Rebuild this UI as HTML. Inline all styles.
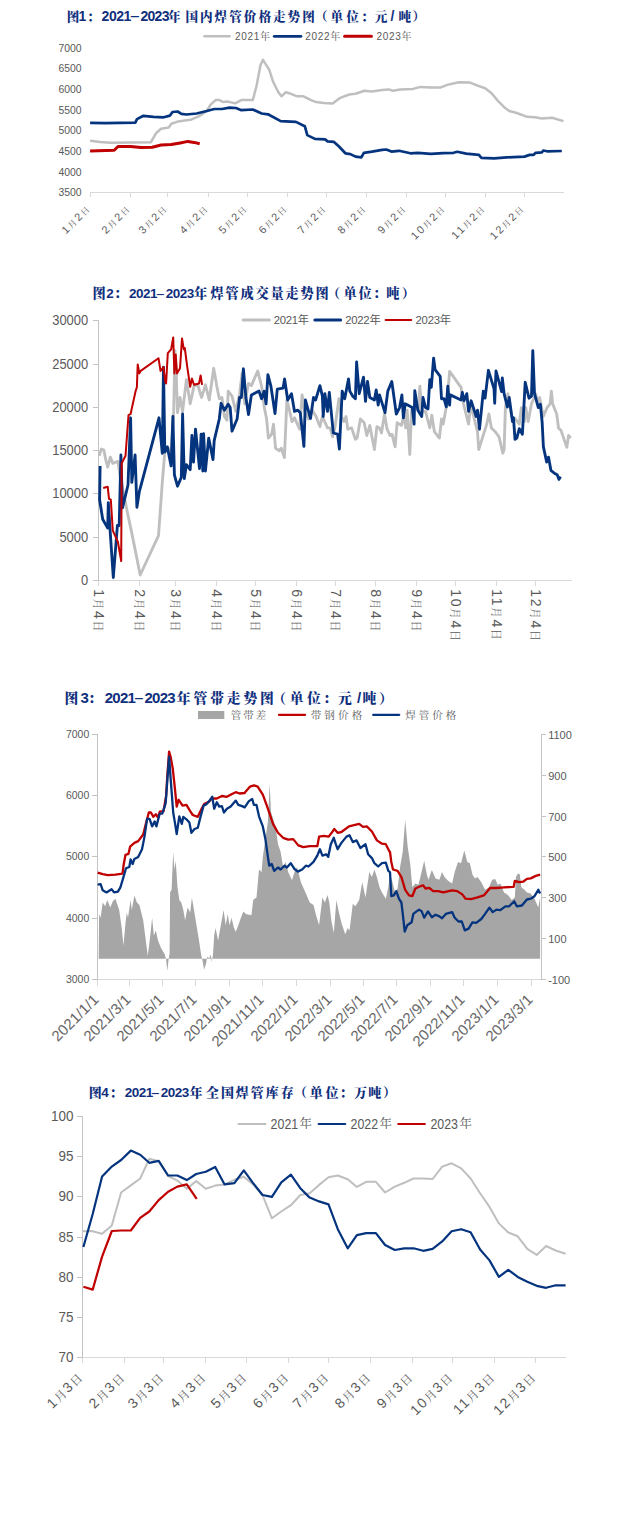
<!DOCTYPE html>
<html lang="zh-CN">
<head>
<meta charset="utf-8">
<title>焊管图表</title>
<style>
html,body{margin:0;padding:0;background:#fff;}
body{width:631px;height:1515px;overflow:hidden;}
svg{display:block;}
.title{font-family:"Liberation Sans","Noto Serif CJK SC",serif;font-weight:bold;fill:#102f7d;}
.lab{font-family:"Liberation Sans","Noto Sans CJK SC",sans-serif;fill:#595959;}
.k{font-family:"Liberation Sans","Noto Serif CJK SC",serif;}
.s{font-family:"Liberation Sans","Noto Sans CJK SC",sans-serif;}
</style>
</head>
<body>
<svg width="631" height="1515" viewBox="0 0 631 1515">
<rect x="0" y="0" width="631" height="1515" fill="#ffffff"/>
<g id="chart1">
<text y="21.3" class="title" style="font-size:12.6px;font-weight:900" x="66.8">图</text><text y="21.3" class="title" style="font-size:14.0px" x="78.6">1</text><text y="21.3" class="title" style="font-size:12.6px;font-weight:900" x="87.1">：</text><text y="21.3" class="title" style="font-size:14.0px" x="101.6 108.9 116.3 123.6">2021</text><text y="21.3" class="title" style="font-size:14.0px" x="140.4 147.5 154.6 161.7">2023</text><text y="21.3" class="title" style="font-size:12.6px;font-weight:900" x="168.1">年</text><text y="21.3" class="title" style="font-size:12.6px;font-weight:900" x="185.4 200.0 214.6 229.2 243.8 258.4 273.0 287.6 302.2">国内焊管价格走势图</text><text y="21.3" class="title" style="font-size:12.6px;font-weight:900" x="315.1">（</text><text y="21.3" class="title" style="font-size:12.6px;font-weight:900" x="330.4 346.2">单位</text><text y="21.3" class="title" style="font-size:12.6px;font-weight:900" x="361.1">：</text><text y="21.3" class="title" style="font-size:12.6px;font-weight:900" x="374.8">元</text><text y="21.3" class="title" style="font-size:14.0px" x="390.5">/</text><text y="21.3" class="title" style="font-size:12.6px;font-weight:900" x="398.6">吨</text><text y="21.3" class="title" style="font-size:12.6px;font-weight:900" x="412.6">）</text><text class="title" style="font-size:14px;font-weight:normal" transform="translate(130.5,21.3) scale(2.39,1)" x="-0.51">-</text>
<line x1="204.4" y1="36.3" x2="229.6" y2="36.3" stroke="#bfbfbf" stroke-width="2.4" stroke-linecap="round"/>
<text x="235" y="39.9" class="lab k" style="font-size:10px" textLength="35" lengthAdjust="spacing">2021年</text>
<line x1="274.2" y1="36.3" x2="301" y2="36.3" stroke="#05347f" stroke-width="2.7" stroke-linecap="round"/>
<text x="305.3" y="39.9" class="lab k" style="font-size:10px" textLength="35" lengthAdjust="spacing">2022年</text>
<line x1="344.6" y1="36.3" x2="371.4" y2="36.3" stroke="#c00000" stroke-width="3.0" stroke-linecap="round"/>
<text x="376.4" y="39.9" class="lab k" style="font-size:10px" textLength="35" lengthAdjust="spacing">2023年</text>
<text x="81.5" y="51.7" class="lab" text-anchor="end" style="font-size:10.4px">7000</text>
<text x="81.5" y="72.3" class="lab" text-anchor="end" style="font-size:10.4px">6500</text>
<text x="81.5" y="93.0" class="lab" text-anchor="end" style="font-size:10.4px">6000</text>
<text x="81.5" y="113.6" class="lab" text-anchor="end" style="font-size:10.4px">5500</text>
<text x="81.5" y="134.3" class="lab" text-anchor="end" style="font-size:10.4px">5000</text>
<text x="81.5" y="154.9" class="lab" text-anchor="end" style="font-size:10.4px">4500</text>
<text x="81.5" y="175.5" class="lab" text-anchor="end" style="font-size:10.4px">4000</text>
<text x="81.5" y="196.2" class="lab" text-anchor="end" style="font-size:10.4px">3500</text>
<line x1="90" y1="192.5" x2="564" y2="192.5" stroke="#d9d9d9" stroke-width="1"/>
<line x1="90.5" y1="192.0" x2="90.5" y2="197.0" stroke="#d9d9d9" stroke-width="1"/>
<text transform="translate(91.5,209.0) rotate(-45)" class="lab k" text-anchor="end" style="letter-spacing:1.9px"><tspan style="font-size:10.8px">1</tspan><tspan style="font-size:8.3px">月</tspan><tspan style="font-size:10.8px">2</tspan><tspan style="font-size:8.3px">日</tspan></text>
<line x1="130.5" y1="192.0" x2="130.5" y2="197.0" stroke="#d9d9d9" stroke-width="1"/>
<text transform="translate(131.5,209.0) rotate(-45)" class="lab k" text-anchor="end" style="letter-spacing:1.9px"><tspan style="font-size:10.8px">2</tspan><tspan style="font-size:8.3px">月</tspan><tspan style="font-size:10.8px">2</tspan><tspan style="font-size:8.3px">日</tspan></text>
<line x1="167.5" y1="192.0" x2="167.5" y2="197.0" stroke="#d9d9d9" stroke-width="1"/>
<text transform="translate(168.5,209.0) rotate(-45)" class="lab k" text-anchor="end" style="letter-spacing:1.9px"><tspan style="font-size:10.8px">3</tspan><tspan style="font-size:8.3px">月</tspan><tspan style="font-size:10.8px">2</tspan><tspan style="font-size:8.3px">日</tspan></text>
<line x1="208.5" y1="192.0" x2="208.5" y2="197.0" stroke="#d9d9d9" stroke-width="1"/>
<text transform="translate(209.5,209.0) rotate(-45)" class="lab k" text-anchor="end" style="letter-spacing:1.9px"><tspan style="font-size:10.8px">4</tspan><tspan style="font-size:8.3px">月</tspan><tspan style="font-size:10.8px">2</tspan><tspan style="font-size:8.3px">日</tspan></text>
<line x1="247.5" y1="192.0" x2="247.5" y2="197.0" stroke="#d9d9d9" stroke-width="1"/>
<text transform="translate(248.5,209.0) rotate(-45)" class="lab k" text-anchor="end" style="letter-spacing:1.9px"><tspan style="font-size:10.8px">5</tspan><tspan style="font-size:8.3px">月</tspan><tspan style="font-size:10.8px">2</tspan><tspan style="font-size:8.3px">日</tspan></text>
<line x1="287.5" y1="192.0" x2="287.5" y2="197.0" stroke="#d9d9d9" stroke-width="1"/>
<text transform="translate(288.5,209.0) rotate(-45)" class="lab k" text-anchor="end" style="letter-spacing:1.9px"><tspan style="font-size:10.8px">6</tspan><tspan style="font-size:8.3px">月</tspan><tspan style="font-size:10.8px">2</tspan><tspan style="font-size:8.3px">日</tspan></text>
<line x1="326.5" y1="192.0" x2="326.5" y2="197.0" stroke="#d9d9d9" stroke-width="1"/>
<text transform="translate(327.5,209.0) rotate(-45)" class="lab k" text-anchor="end" style="letter-spacing:1.9px"><tspan style="font-size:10.8px">7</tspan><tspan style="font-size:8.3px">月</tspan><tspan style="font-size:10.8px">2</tspan><tspan style="font-size:8.3px">日</tspan></text>
<line x1="366.5" y1="192.0" x2="366.5" y2="197.0" stroke="#d9d9d9" stroke-width="1"/>
<text transform="translate(367.5,209.0) rotate(-45)" class="lab k" text-anchor="end" style="letter-spacing:1.9px"><tspan style="font-size:10.8px">8</tspan><tspan style="font-size:8.3px">月</tspan><tspan style="font-size:10.8px">2</tspan><tspan style="font-size:8.3px">日</tspan></text>
<line x1="406.5" y1="192.0" x2="406.5" y2="197.0" stroke="#d9d9d9" stroke-width="1"/>
<text transform="translate(407.5,209.0) rotate(-45)" class="lab k" text-anchor="end" style="letter-spacing:1.9px"><tspan style="font-size:10.8px">9</tspan><tspan style="font-size:8.3px">月</tspan><tspan style="font-size:10.8px">2</tspan><tspan style="font-size:8.3px">日</tspan></text>
<line x1="445.5" y1="192.0" x2="445.5" y2="197.0" stroke="#d9d9d9" stroke-width="1"/>
<text transform="translate(446.5,209.0) rotate(-45)" class="lab k" text-anchor="end" style="letter-spacing:1.9px"><tspan style="font-size:10.8px">10</tspan><tspan style="font-size:8.3px">月</tspan><tspan style="font-size:10.8px">2</tspan><tspan style="font-size:8.3px">日</tspan></text>
<line x1="485.5" y1="192.0" x2="485.5" y2="197.0" stroke="#d9d9d9" stroke-width="1"/>
<text transform="translate(486.5,209.0) rotate(-45)" class="lab k" text-anchor="end" style="letter-spacing:1.9px"><tspan style="font-size:10.8px">11</tspan><tspan style="font-size:8.3px">月</tspan><tspan style="font-size:10.8px">2</tspan><tspan style="font-size:8.3px">日</tspan></text>
<line x1="524.5" y1="192.0" x2="524.5" y2="197.0" stroke="#d9d9d9" stroke-width="1"/>
<text transform="translate(525.5,209.0) rotate(-45)" class="lab k" text-anchor="end" style="letter-spacing:1.9px"><tspan style="font-size:10.8px">12</tspan><tspan style="font-size:8.3px">月</tspan><tspan style="font-size:10.8px">2</tspan><tspan style="font-size:8.3px">日</tspan></text>
<polyline points="90.1,140.7 100.3,141.9 110.4,142.7 151.0,142.2 153.5,137.6 156.0,133.3 161.1,128.7 168.7,127.5 171.3,123.7 177.6,121.6 181.4,121.1 191.6,119.4 199.2,116.1 206.8,111.0 210.6,104.7 215.6,100.1 219.5,100.1 223.3,102.1 227.1,101.6 230.0,102.1 235.0,103.4 241.4,100.1 252.8,100.1 256.6,85.6 260.4,65.4 263.0,59.8 269.3,69.9 273.1,81.8 278.2,92.0 281.5,96.3 285.8,92.2 290.9,93.8 297.2,96.3 303.5,96.3 311.1,100.1 316.2,102.1 323.8,102.9 332.7,103.4 340.3,97.8 349.2,94.5 355.5,93.8 364.4,90.7 372.0,91.5 382.1,90.0 388.9,89.4 392.7,90.7 400.3,89.4 413.0,88.9 420.6,86.9 430.7,87.4 440.9,87.4 447.2,84.9 458.6,82.3 470.0,82.6 477.6,85.6 485.2,88.2 491.6,93.2 497.9,100.9 504.2,107.2 509.3,111.0 516.9,113.0 527.1,116.8 534.7,117.3 542.0,118.6 552.1,117.8 563.5,121.1" fill="none" stroke="#bfbfbf" stroke-width="2.5" stroke-linejoin="round" stroke-linecap="butt" />
<polyline points="90.1,122.9 105.4,123.2 135.3,122.7 137.0,119.1 143.4,115.8 153.5,116.8 163.7,117.3 170.0,115.6 172.5,112.0 177.6,111.5 181.4,113.8 186.5,114.5 196.6,113.5 206.8,111.0 214.4,109.0 222.0,109.0 229.6,107.7 236.0,108.0 241.4,110.2 252.8,109.5 261.7,113.5 268.0,114.3 280.7,121.1 295.9,121.9 304.8,126.2 307.3,135.1 314.9,138.9 325.1,139.4 327.6,141.4 334.0,141.9 339.0,146.5 345.4,153.3 350.4,154.1 355.5,156.6 361.3,157.4 363.9,152.8 372.0,151.6 382.1,149.8 386.3,149.5 391.4,151.6 399.0,150.8 410.4,153.3 418.0,152.8 430.7,153.8 443.4,153.1 453.5,152.8 457.3,151.8 466.2,153.6 478.9,154.9 481.4,157.9 494.1,158.4 506.8,157.4 524.5,156.6 529.6,154.9 533.4,154.9 535.7,152.8 542.0,152.3 543.3,150.5 547.0,151.3 561.8,151.0" fill="none" stroke="#05347f" stroke-width="2.7" stroke-linejoin="round" stroke-linecap="butt" />
<polyline points="90.1,151.1 114.2,150.3 118.0,146.5 130.7,146.5 140.9,147.5 152.3,147.3 161.1,145.0 171.3,144.5 180.2,142.9 187.8,141.4 194.1,142.4 199.7,143.7" fill="none" stroke="#c00000" stroke-width="3.0" stroke-linejoin="round" stroke-linecap="butt" />
</g>
<g id="chart2">
<text y="298.3" class="title" style="font-size:13.2px;font-weight:900" x="92.5">图</text><text y="298.3" class="title" style="font-size:13.5px" x="106.2">2</text><text y="298.3" class="title" style="font-size:13.2px;font-weight:900" x="114.1">：</text><text y="298.3" class="title" style="font-size:13.5px" x="129.0 136.0 143.0 150.0">2021</text><text y="298.3" class="title" style="font-size:13.5px" x="165.7 172.7 179.7 186.7">2023</text><text y="298.3" class="title" style="font-size:13.2px;font-weight:900" x="193.9">年</text><text y="298.3" class="title" style="font-size:13.2px;font-weight:900" x="210.4 225.4 240.4 255.4 270.4 285.4 300.4 315.4">焊管成交量走势图</text><text y="298.3" class="title" style="font-size:13.2px;font-weight:900" x="327.1">（</text><text y="298.3" class="title" style="font-size:13.2px;font-weight:900" x="343.4 358.5">单位</text><text y="298.3" class="title" style="font-size:13.2px;font-weight:900" x="372.9">：</text><text y="298.3" class="title" style="font-size:13.2px;font-weight:900" x="386.2">吨</text><text y="298.3" class="title" style="font-size:13.2px;font-weight:900" x="401.7">）</text><text class="title" style="font-size:13.5px;font-weight:normal" transform="translate(156.5,298.3) scale(2.17,1)" x="-0.49">-</text>
<line x1="243.2" y1="320" x2="269.4" y2="320" stroke="#bfbfbf" stroke-width="3" stroke-linecap="round"/>
<text x="273.7" y="324" class="lab s" style="font-size:11.3px" textLength="35.4" lengthAdjust="spacing">2021年</text>
<line x1="314.9" y1="320" x2="340.6" y2="320" stroke="#05347f" stroke-width="3" stroke-linecap="round"/>
<text x="345.3" y="324" class="lab s" style="font-size:11.3px" textLength="35.4" lengthAdjust="spacing">2022年</text>
<line x1="385.6" y1="320" x2="411.2" y2="320" stroke="#c00000" stroke-width="2.0" stroke-linecap="round"/>
<text x="415.6" y="324" class="lab s" style="font-size:11.3px" textLength="35.4" lengthAdjust="spacing">2023年</text>
<line x1="99" y1="580.5" x2="572" y2="580.5" stroke="#d9d9d9" stroke-width="1"/>
<line x1="98.5" y1="320" x2="98.5" y2="581" stroke="#c3c3c3" stroke-width="1"/>
<line x1="93" y1="320.5" x2="98" y2="320.5" stroke="#c3c3c3" stroke-width="1"/>
<text x="52.2" y="324.8" class="lab" style="font-size:14.6px" textLength="36.0" lengthAdjust="spacingAndGlyphs">30000</text>
<line x1="93" y1="364.5" x2="98" y2="364.5" stroke="#c3c3c3" stroke-width="1"/>
<text x="52.2" y="368.8" class="lab" style="font-size:14.6px" textLength="36.0" lengthAdjust="spacingAndGlyphs">25000</text>
<line x1="93" y1="407.5" x2="98" y2="407.5" stroke="#c3c3c3" stroke-width="1"/>
<text x="52.2" y="411.8" class="lab" style="font-size:14.6px" textLength="36.0" lengthAdjust="spacingAndGlyphs">20000</text>
<line x1="93" y1="450.5" x2="98" y2="450.5" stroke="#c3c3c3" stroke-width="1"/>
<text x="52.2" y="454.8" class="lab" style="font-size:14.6px" textLength="36.0" lengthAdjust="spacingAndGlyphs">15000</text>
<line x1="93" y1="493.5" x2="98" y2="493.5" stroke="#c3c3c3" stroke-width="1"/>
<text x="52.2" y="497.8" class="lab" style="font-size:14.6px" textLength="36.0" lengthAdjust="spacingAndGlyphs">10000</text>
<line x1="93" y1="537.5" x2="98" y2="537.5" stroke="#c3c3c3" stroke-width="1"/>
<text x="59.4" y="541.8" class="lab" style="font-size:14.6px" textLength="28.8" lengthAdjust="spacingAndGlyphs">5000</text>
<line x1="93" y1="580.5" x2="98" y2="580.5" stroke="#c3c3c3" stroke-width="1"/>
<text x="81.0" y="584.8" class="lab" style="font-size:14.6px" textLength="7.2" lengthAdjust="spacingAndGlyphs">0</text>
<line x1="98.5" y1="581" x2="98.5" y2="586" stroke="#d9d9d9" stroke-width="1"/>
<text transform="translate(94.3,589.3) rotate(90)" class="lab k" style="letter-spacing:1.6px"><tspan style="font-size:14px">1</tspan><tspan style="font-size:10.8px">月</tspan><tspan style="font-size:14px">4</tspan><tspan style="font-size:10.8px">日</tspan></text>
<line x1="139.5" y1="581" x2="139.5" y2="586" stroke="#d9d9d9" stroke-width="1"/>
<text transform="translate(135.3,589.3) rotate(90)" class="lab k" style="letter-spacing:1.6px"><tspan style="font-size:14px">2</tspan><tspan style="font-size:10.8px">月</tspan><tspan style="font-size:14px">4</tspan><tspan style="font-size:10.8px">日</tspan></text>
<line x1="175.5" y1="581" x2="175.5" y2="586" stroke="#d9d9d9" stroke-width="1"/>
<text transform="translate(171.3,589.3) rotate(90)" class="lab k" style="letter-spacing:1.6px"><tspan style="font-size:14px">3</tspan><tspan style="font-size:10.8px">月</tspan><tspan style="font-size:14px">4</tspan><tspan style="font-size:10.8px">日</tspan></text>
<line x1="216.5" y1="581" x2="216.5" y2="586" stroke="#d9d9d9" stroke-width="1"/>
<text transform="translate(212.3,589.3) rotate(90)" class="lab k" style="letter-spacing:1.6px"><tspan style="font-size:14px">4</tspan><tspan style="font-size:10.8px">月</tspan><tspan style="font-size:14px">4</tspan><tspan style="font-size:10.8px">日</tspan></text>
<line x1="255.5" y1="581" x2="255.5" y2="586" stroke="#d9d9d9" stroke-width="1"/>
<text transform="translate(251.3,589.3) rotate(90)" class="lab k" style="letter-spacing:1.6px"><tspan style="font-size:14px">5</tspan><tspan style="font-size:10.8px">月</tspan><tspan style="font-size:14px">4</tspan><tspan style="font-size:10.8px">日</tspan></text>
<line x1="296.5" y1="581" x2="296.5" y2="586" stroke="#d9d9d9" stroke-width="1"/>
<text transform="translate(292.3,589.3) rotate(90)" class="lab k" style="letter-spacing:1.6px"><tspan style="font-size:14px">6</tspan><tspan style="font-size:10.8px">月</tspan><tspan style="font-size:14px">4</tspan><tspan style="font-size:10.8px">日</tspan></text>
<line x1="335.5" y1="581" x2="335.5" y2="586" stroke="#d9d9d9" stroke-width="1"/>
<text transform="translate(331.3,589.3) rotate(90)" class="lab k" style="letter-spacing:1.6px"><tspan style="font-size:14px">7</tspan><tspan style="font-size:10.8px">月</tspan><tspan style="font-size:14px">4</tspan><tspan style="font-size:10.8px">日</tspan></text>
<line x1="375.5" y1="581" x2="375.5" y2="586" stroke="#d9d9d9" stroke-width="1"/>
<text transform="translate(371.3,589.3) rotate(90)" class="lab k" style="letter-spacing:1.6px"><tspan style="font-size:14px">8</tspan><tspan style="font-size:10.8px">月</tspan><tspan style="font-size:14px">4</tspan><tspan style="font-size:10.8px">日</tspan></text>
<line x1="416.5" y1="581" x2="416.5" y2="586" stroke="#d9d9d9" stroke-width="1"/>
<text transform="translate(412.3,589.3) rotate(90)" class="lab k" style="letter-spacing:1.6px"><tspan style="font-size:14px">9</tspan><tspan style="font-size:10.8px">月</tspan><tspan style="font-size:14px">4</tspan><tspan style="font-size:10.8px">日</tspan></text>
<line x1="455.5" y1="581" x2="455.5" y2="586" stroke="#d9d9d9" stroke-width="1"/>
<text transform="translate(451.3,589.3) rotate(90)" class="lab k" style="letter-spacing:1.6px"><tspan style="font-size:14px">10</tspan><tspan style="font-size:10.8px">月</tspan><tspan style="font-size:14px">4</tspan><tspan style="font-size:10.8px">日</tspan></text>
<line x1="496.5" y1="581" x2="496.5" y2="586" stroke="#d9d9d9" stroke-width="1"/>
<text transform="translate(492.3,589.3) rotate(90)" class="lab k" style="letter-spacing:1.6px"><tspan style="font-size:14px">11</tspan><tspan style="font-size:10.8px">月</tspan><tspan style="font-size:14px">4</tspan><tspan style="font-size:10.8px">日</tspan></text>
<line x1="535.5" y1="581" x2="535.5" y2="586" stroke="#d9d9d9" stroke-width="1"/>
<text transform="translate(531.3,589.3) rotate(90)" class="lab k" style="letter-spacing:1.6px"><tspan style="font-size:14px">12</tspan><tspan style="font-size:10.8px">月</tspan><tspan style="font-size:14px">4</tspan><tspan style="font-size:10.8px">日</tspan></text>
<polyline points="99.1,455.8 101.4,449.0 103.9,450.0 105.7,459.6 107.7,467.2 110.3,457.1 112.8,463.4 117.9,461.4 119.9,474.8 125.5,502.7 128.0,515.4 131.8,533.1 140.2,575.0 158.5,535.7 162.3,482.4 164.8,452.0 167.3,446.9 171.1,452.0 173.7,411.4 174.9,350.6 176.2,373.4 177.5,412.7 180.0,397.5 182.6,411.4 186.4,379.7 190.2,403.8 194.0,386.1 197.8,384.8 201.6,397.5 205.4,384.8 209.2,400.0 213.7,368.3 216.8,386.1 219.3,398.7 221.9,397.5 224.4,416.5 226.9,420.3 228.2,391.1 232.0,396.2 235.8,411.4 239.6,393.7 242.1,373.4 244.7,403.8 248.5,383.5 251.4,385.6 257.7,370.9 261.6,386.1 264.1,406.4 266.6,419.0 268.4,438.1 271.7,434.2 273.5,424.1 275.5,448.2 279.3,450.7 281.3,448.2 284.4,457.6 286.9,400.0 289.4,410.2 292.0,421.6 294.5,417.8 299.6,429.2 302.1,394.9 304.7,411.4 308.5,419.0 312.3,410.2 316.1,416.5 319.9,426.6 322.4,416.5 327.5,427.9 330.0,427.9 332.6,436.8 335.1,426.6 338.9,398.7 341.4,416.5 344.0,421.6 346.0,416.5 347.8,429.2 351.6,427.9 355.4,439.3 357.1,438.1 360.4,419.0 364.2,422.8 366.8,435.5 369.8,425.4 374.4,449.5 376.9,426.6 379.5,427.9 381.5,433.0 384.5,414.0 387.1,429.2 390.0,435.5 392.0,434.2 395.1,446.9 397.1,422.8 401.4,425.4 403.9,415.2 405.7,427.9 407.2,410.2 409.8,454.5 411.6,410.2 415.4,407.6 418.4,410.2 419.9,386.1 421.7,411.4 425.5,411.4 429.8,427.9 431.8,415.2 434.4,431.7 439.4,438.1 441.5,419.0 443.2,424.1 447.1,402.6 449.6,371.4 461.0,387.3 463.5,403.8 468.6,424.1 470.6,405.1 473.7,416.5 477.5,431.7 478.7,449.5 486.4,425.4 488.9,414.0 491.4,427.9 495.2,431.7 499.0,436.8 502.8,453.3 504.1,449.5 505.4,407.6 507.9,393.7 511.7,416.5 515.5,419.0 519.3,424.1 521.3,407.6 524.4,421.6 525.7,407.6 528.2,421.6 531.5,403.8 535.8,393.7 537.8,403.8 539.6,397.5 543.3,416.5 547.1,407.6 550.1,403.8 551.4,391.1 552.6,403.8 556.7,414.0 558.5,427.9 561.0,430.4 566.8,447.4 568.6,435.5 570.7,438.1" fill="none" stroke="#bfbfbf" stroke-width="2.85" stroke-linejoin="round" stroke-linecap="butt" />
<polyline points="100.1,465.9 99.6,499.7 102.7,519.2 107.7,528.1 108.3,502.7 110.3,533.1 113.3,577.5 117.4,525.5 119.2,525.5 120.9,455.0 122.5,507.8 128.0,485.0 130.6,417.8 131.8,482.4 135.1,455.0 136.9,507.3 139.4,491.3 159.0,417.8 162.3,453.3 163.5,367.1 164.8,452.0 167.3,446.9 171.1,465.9 172.9,416.5 174.4,474.8 177.5,486.2 181.3,477.4 182.6,414.0 184.3,478.6 186.4,464.7 190.2,469.7 191.9,435.5 193.5,462.1 195.5,429.2 199.5,468.5 201.1,434.2 202.8,471.0 203.6,433.7 205.4,471.0 208.7,438.1 213.0,459.6 214.2,440.6 219.3,419.0 221.1,403.3 224.4,410.2 228.2,404.3 230.2,407.6 232.0,431.2 237.1,419.0 239.6,397.5 241.4,397.5 243.4,368.8 245.9,397.5 248.5,414.5 251.4,394.9 259.0,391.1 261.6,398.7 264.1,391.1 266.1,403.8 267.9,374.7 270.9,386.1 275.0,413.5 277.3,389.1 283.1,388.1 284.6,379.0 287.7,400.0 291.5,393.7 294.5,411.4 297.8,410.2 300.3,412.7 303.9,446.4 305.4,400.0 310.5,418.5 313.5,397.5 315.6,400.0 319.9,385.6 322.4,396.2 323.2,416.5 324.9,393.7 327.5,411.4 329.3,392.4 333.3,433.0 337.6,434.2 339.4,449.0 342.2,391.1 344.7,398.7 348.5,379.0 349.8,391.1 352.8,396.2 355.4,398.7 356.6,362.0 359.2,393.7 363.5,377.2 365.5,401.3 367.5,381.5 369.8,397.5 374.4,400.0 376.2,389.9 378.2,405.1 379.5,394.9 385.0,412.7 387.8,391.1 391.8,381.5 396.3,414.0 399.6,407.6 401.9,394.9 403.4,417.8 405.2,403.8 409.0,405.8 412.3,407.6 414.1,424.1 414.8,390.6 417.9,410.2 421.7,416.5 423.0,397.5 425.5,407.6 428.0,408.9 429.8,379.7 431.3,387.3 433.6,358.2 435.1,369.6 440.2,376.4 441.5,398.7 444.0,398.7 446.3,406.9 447.8,386.1 449.6,405.1 450.3,394.9 461.0,400.0 462.3,392.4 464.0,400.8 466.8,393.7 468.6,411.4 471.1,400.8 476.2,416.5 477.5,410.2 479.5,429.2 483.3,391.1 485.1,398.2 488.4,370.3 494.0,388.6 494.7,403.3 496.0,370.9 501.6,391.6 502.3,378.0 504.1,393.7 507.4,407.1 509.2,397.5 512.5,421.6 513.5,417.8 515.0,439.3 516.8,438.1 519.3,428.7 522.4,434.2 525.2,382.3 529.0,398.2 531.5,396.2 532.8,350.6 534.5,393.7 538.3,407.6 540.4,404.3 542.1,421.6 543.4,446.9 546.7,462.1 548.5,457.1 550.9,470.3 554.7,473.5 557.2,474.8 559.0,479.4 560.5,476.6" fill="none" stroke="#05347f" stroke-width="2.85" stroke-linejoin="round" stroke-linecap="butt" />
<polyline points="103.2,488.0 107.7,486.7 109.0,498.9 110.8,499.7 112.8,530.6 117.9,542.0 121.2,561.0 121.7,463.4 125.5,455.8 128.5,415.2 130.6,414.0 135.6,391.1 136.9,387.3 137.7,364.5 139.4,373.4 140.7,370.9 158.5,358.2 160.5,370.9 163.5,367.1 165.3,382.3 166.1,383.5 167.8,353.1 171.1,349.3 173.2,337.4 174.4,373.4 175.7,354.4 177.0,373.4 180.0,368.3 182.0,338.4 183.8,349.3 184.8,348.0 187.1,365.8 190.2,386.8 191.9,378.5 194.0,384.8 199.0,383.5 200.6,375.4 202.1,384.8" fill="none" stroke="#c00000" stroke-width="2.0" stroke-linejoin="round" stroke-linecap="butt" />
</g>
<g id="chart3">
<text y="702.5" class="title" style="font-size:13.8px;font-weight:900" x="64.4">图</text><text y="703" class="title" style="font-size:15.0px" x="80.4">3</text><text y="702.5" class="title" style="font-size:13.8px;font-weight:900" x="87.9">：</text><text y="703" class="title" style="font-size:15.0px" x="104.7 112.3 119.9 127.5">2021</text><text y="703" class="title" style="font-size:15.0px" x="144.5 152.1 159.7 167.3">2023</text><text y="702.5" class="title" style="font-size:13.8px;font-weight:900" x="176.8">年</text><text y="702.5" class="title" style="font-size:13.8px;font-weight:900" x="193.6 210.2 226.8 243.4 260.0">管带走势图</text><text y="702.5" class="title" style="font-size:13.8px;font-weight:900" x="272.2">（</text><text y="702.5" class="title" style="font-size:13.8px;font-weight:900" x="289.7 306.9">单位</text><text y="702.5" class="title" style="font-size:13.8px;font-weight:900" x="322.9">：</text><text y="702.5" class="title" style="font-size:13.8px;font-weight:900" x="337.9">元</text><text y="703" class="title" style="font-size:15.0px" x="357.0">/</text><text y="702.5" class="title" style="font-size:13.8px;font-weight:900" x="362.6">吨</text><text y="702.5" class="title" style="font-size:13.8px;font-weight:900" x="378.9">）</text><text class="title" style="font-size:15px;font-weight:normal" transform="translate(134.8,703) scale(2.16,1)" x="-0.55">-</text>
<rect x="198" y="711" width="26.3" height="8" fill="#a6a6a6"/>
<text x="230.8" y="718.5999999999999" class="lab k" style="font-size:10.5px" textLength="35.5" lengthAdjust="spacing">管带差</text>
<line x1="279" y1="714.8" x2="305" y2="714.8" stroke="#c00000" stroke-width="2.3" stroke-linecap="round"/>
<text x="310.7" y="718.5999999999999" class="lab k" style="font-size:10.5px" textLength="51.5" lengthAdjust="spacing">带钢价格</text>
<line x1="373.2" y1="714.8" x2="399.2" y2="714.8" stroke="#05347f" stroke-width="2.3" stroke-linecap="round"/>
<text x="405.2" y="718.5999999999999" class="lab k" style="font-size:10.5px" textLength="51" lengthAdjust="spacing">焊管价格</text>
<polygon points="98.7,958.7 99.1,913.9 100.6,917.7 102.7,902.5 105.2,906.3 107.2,900.0 110.3,907.6 112.8,901.2 115.4,898.7 119.2,910.1 121.7,927.9 123.5,945.6 125.5,922.8 126.8,912.6 128.0,917.7 130.6,900.0 131.8,910.1 134.4,895.4 136.9,902.5 139.4,905.0 143.2,920.2 145.8,940.5 147.8,955.7 150.3,935.5 152.1,917.7 153.9,935.5 155.9,930.4 158.0,940.5 161.0,948.1 164.8,954.5 166.1,959.5 167.3,971.0 168.6,959.5 169.6,953.2 170.1,892.4 171.6,889.8 173.2,851.8 174.4,869.5 175.7,860.7 177.5,887.3 179.3,900.0 181.3,902.5 183.3,910.1 185.1,920.2 187.6,907.6 190.2,912.6 191.9,897.4 194.0,910.1 196.5,925.3 199.0,940.5 201.1,954.5 202.8,962.1 204.1,969.7 206.1,963.4 207.1,957.0 209.2,958.3 210.7,954.5 211.7,962.1 213.0,954.5 214.2,935.5 215.5,927.9 218.1,940.5 220.6,926.6 223.6,910.1 225.7,925.3 227.7,913.9 229.5,925.3 231.5,917.7 234.0,927.9 235.8,931.7 238.3,925.3 240.9,917.7 243.4,911.4 245.9,913.9 251.4,915.2 253.2,900.0 256.5,897.4 259.0,869.5 261.6,872.1 262.8,856.9 265.4,839.1 267.9,821.4 269.7,783.3 270.9,811.2 273.0,818.8 275.5,826.4 278.0,844.2 280.6,851.8 283.1,867.0 285.6,861.9 288.2,872.1 292.0,880.2 294.5,872.1 297.1,867.0 300.9,882.2 305.9,893.6 309.7,902.5 313.5,905.0 316.1,915.2 319.1,925.3 322.4,897.4 324.9,902.5 327.5,894.9 329.3,902.5 331.3,920.2 333.8,932.9 336.4,900.0 338.9,912.6 341.4,922.8 345.2,934.2 347.8,927.9 349.5,930.4 352.8,903.8 355.4,906.3 359.2,900.0 362.2,882.2 365.5,897.4 369.3,872.1 371.9,877.1 374.4,869.5 376.9,877.1 379.5,887.3 382.0,892.4 385.8,898.7 388.3,887.3 390.0,874.6 392.5,882.2 395.1,892.4 397.6,888.5 400.1,867.0 402.7,851.8 405.2,820.1 407.7,846.7 410.3,864.5 412.3,887.3 415.4,883.5 418.4,884.7 420.4,877.1 424.2,860.7 426.8,874.6 428.5,879.7 431.8,870.0 435.6,878.4 439.4,879.7 442.0,872.1 444.5,877.1 448.3,880.9 452.1,883.5 454.7,872.1 458.0,861.9 461.0,863.2 464.3,850.5 467.3,861.9 469.9,863.2 472.4,874.6 474.9,878.4 477.5,877.1 481.3,882.2 485.1,889.8 488.9,887.3 492.2,879.7 495.2,878.9 497.8,884.7 500.3,883.5 504.1,892.4 507.9,894.9 511.7,900.0 514.8,897.4 516.0,877.1 518.1,873.3 519.8,874.6 521.3,887.3 524.4,889.8 526.9,892.4 530.7,893.6 534.5,898.7 538.3,907.6 540.1,897.4 540.1,958.7" fill="#a6a6a6"/>
<line x1="98" y1="979.5" x2="541" y2="979.5" stroke="#d9d9d9" stroke-width="1"/>
<line x1="97.5" y1="734" x2="97.5" y2="980" stroke="#c3c3c3" stroke-width="1"/>
<line x1="541.5" y1="734" x2="541.5" y2="980" stroke="#c3c3c3" stroke-width="1"/>
<line x1="92" y1="734.5" x2="97" y2="734.5" stroke="#c3c3c3" stroke-width="1"/>
<text x="89.3" y="738.3" class="lab" text-anchor="end" style="font-size:10.5px">7000</text>
<line x1="92" y1="795.5" x2="97" y2="795.5" stroke="#c3c3c3" stroke-width="1"/>
<text x="89.3" y="799.3" class="lab" text-anchor="end" style="font-size:10.5px">6000</text>
<line x1="92" y1="856.5" x2="97" y2="856.5" stroke="#c3c3c3" stroke-width="1"/>
<text x="89.3" y="860.3" class="lab" text-anchor="end" style="font-size:10.5px">5000</text>
<line x1="92" y1="918.5" x2="97" y2="918.5" stroke="#c3c3c3" stroke-width="1"/>
<text x="89.3" y="922.3" class="lab" text-anchor="end" style="font-size:10.5px">4000</text>
<line x1="92" y1="979.5" x2="97" y2="979.5" stroke="#c3c3c3" stroke-width="1"/>
<text x="89.3" y="983.3" class="lab" text-anchor="end" style="font-size:10.5px">3000</text>
<line x1="542" y1="734.5" x2="546" y2="734.5" stroke="#c3c3c3" stroke-width="1"/>
<text x="548.2" y="738.5" class="lab" style="font-size:11px">1100</text>
<line x1="542" y1="775.5" x2="546" y2="775.5" stroke="#c3c3c3" stroke-width="1"/>
<text x="548.2" y="779.5" class="lab" style="font-size:11px">900</text>
<line x1="542" y1="816.5" x2="546" y2="816.5" stroke="#c3c3c3" stroke-width="1"/>
<text x="548.2" y="820.5" class="lab" style="font-size:11px">700</text>
<line x1="542" y1="856.5" x2="546" y2="856.5" stroke="#c3c3c3" stroke-width="1"/>
<text x="548.2" y="860.5" class="lab" style="font-size:11px">500</text>
<line x1="542" y1="897.5" x2="546" y2="897.5" stroke="#c3c3c3" stroke-width="1"/>
<text x="548.2" y="901.5" class="lab" style="font-size:11px">300</text>
<line x1="542" y1="938.5" x2="546" y2="938.5" stroke="#c3c3c3" stroke-width="1"/>
<text x="548.2" y="942.5" class="lab" style="font-size:11px">100</text>
<line x1="542" y1="979.5" x2="546" y2="979.5" stroke="#c3c3c3" stroke-width="1"/>
<text x="548.2" y="983.5" class="lab" style="font-size:11px">-100</text>
<line x1="97.5" y1="980" x2="97.5" y2="986" stroke="#d9d9d9" stroke-width="1"/>
<text transform="translate(99.7,1000.5) rotate(-45)" class="lab" text-anchor="end" style="font-size:15px;letter-spacing:0.1px;fill:#666">2021/1/1</text>
<line x1="129.5" y1="980" x2="129.5" y2="986" stroke="#d9d9d9" stroke-width="1"/>
<text transform="translate(131.7,1000.5) rotate(-45)" class="lab" text-anchor="end" style="font-size:15px;letter-spacing:0.1px;fill:#666">2021/3/1</text>
<line x1="162.5" y1="980" x2="162.5" y2="986" stroke="#d9d9d9" stroke-width="1"/>
<text transform="translate(164.7,1000.5) rotate(-45)" class="lab" text-anchor="end" style="font-size:15px;letter-spacing:0.1px;fill:#666">2021/5/1</text>
<line x1="195.5" y1="980" x2="195.5" y2="986" stroke="#d9d9d9" stroke-width="1"/>
<text transform="translate(197.7,1000.5) rotate(-45)" class="lab" text-anchor="end" style="font-size:15px;letter-spacing:0.1px;fill:#666">2021/7/1</text>
<line x1="229.5" y1="980" x2="229.5" y2="986" stroke="#d9d9d9" stroke-width="1"/>
<text transform="translate(231.7,1000.5) rotate(-45)" class="lab" text-anchor="end" style="font-size:15px;letter-spacing:0.1px;fill:#666">2021/9/1</text>
<line x1="262.5" y1="980" x2="262.5" y2="986" stroke="#d9d9d9" stroke-width="1"/>
<text transform="translate(264.7,1000.5) rotate(-45)" class="lab" text-anchor="end" style="font-size:15px;letter-spacing:0.1px;fill:#666">2021/11/1</text>
<line x1="296.5" y1="980" x2="296.5" y2="986" stroke="#d9d9d9" stroke-width="1"/>
<text transform="translate(298.7,1000.5) rotate(-45)" class="lab" text-anchor="end" style="font-size:15px;letter-spacing:0.1px;fill:#666">2022/1/1</text>
<line x1="330.5" y1="980" x2="330.5" y2="986" stroke="#d9d9d9" stroke-width="1"/>
<text transform="translate(332.7,1000.5) rotate(-45)" class="lab" text-anchor="end" style="font-size:15px;letter-spacing:0.1px;fill:#666">2022/3/1</text>
<line x1="363.5" y1="980" x2="363.5" y2="986" stroke="#d9d9d9" stroke-width="1"/>
<text transform="translate(365.7,1000.5) rotate(-45)" class="lab" text-anchor="end" style="font-size:15px;letter-spacing:0.1px;fill:#666">2022/5/1</text>
<line x1="396.5" y1="980" x2="396.5" y2="986" stroke="#d9d9d9" stroke-width="1"/>
<text transform="translate(398.7,1000.5) rotate(-45)" class="lab" text-anchor="end" style="font-size:15px;letter-spacing:0.1px;fill:#666">2022/7/1</text>
<line x1="430.5" y1="980" x2="430.5" y2="986" stroke="#d9d9d9" stroke-width="1"/>
<text transform="translate(432.7,1000.5) rotate(-45)" class="lab" text-anchor="end" style="font-size:15px;letter-spacing:0.1px;fill:#666">2022/9/1</text>
<line x1="463.5" y1="980" x2="463.5" y2="986" stroke="#d9d9d9" stroke-width="1"/>
<text transform="translate(465.7,1000.5) rotate(-45)" class="lab" text-anchor="end" style="font-size:15px;letter-spacing:0.1px;fill:#666">2022/11/1</text>
<line x1="497.5" y1="980" x2="497.5" y2="986" stroke="#d9d9d9" stroke-width="1"/>
<text transform="translate(499.7,1000.5) rotate(-45)" class="lab" text-anchor="end" style="font-size:15px;letter-spacing:0.1px;fill:#666">2023/1/1</text>
<line x1="531.5" y1="980" x2="531.5" y2="986" stroke="#d9d9d9" stroke-width="1"/>
<text transform="translate(533.7,1000.5) rotate(-45)" class="lab" text-anchor="end" style="font-size:15px;letter-spacing:0.1px;fill:#666">2023/3/1</text>
<polyline points="97.6,872.6 102.7,874.1 107.7,875.1 115.4,874.6 122.5,873.6 123.7,864.5 125.5,854.8 128.5,853.8 130.1,846.7 134.4,842.9 138.2,841.1 143.2,834.5 145.8,823.9 148.8,812.5 150.9,812.5 153.4,816.8 155.9,814.3 158.0,817.6 159.7,811.7 163.5,811.2 166.1,796.0 167.3,775.7 169.1,751.6 170.6,756.7 172.7,768.1 174.9,788.4 176.7,806.6 178.7,799.8 182.6,805.6 186.4,804.9 190.2,811.2 192.7,815.0 197.8,816.8 201.6,808.7 204.1,804.1 209.2,801.6 211.7,798.5 216.8,798.5 221.9,796.0 226.9,796.8 232.0,794.0 235.8,792.2 239.6,793.5 244.7,793.0 245.1,792.2 250.1,786.6 253.9,785.3 257.7,786.6 262.8,794.7 267.9,808.7 273.0,823.9 278.0,832.8 283.1,837.8 288.2,839.6 293.2,839.1 298.3,845.4 303.4,847.2 309.7,846.2 317.3,846.2 319.1,836.6 323.7,835.8 328.7,836.6 332.6,831.5 334.3,829.0 337.6,832.8 341.4,832.0 349.0,826.4 354.1,825.2 359.2,823.9 363.0,826.9 366.8,826.4 371.9,831.5 376.9,840.4 382.0,843.7 385.8,844.2 389.6,851.8 390.0,851.8 391.3,861.9 393.0,869.5 397.6,870.8 401.4,877.1 405.2,889.8 409.0,895.4 412.3,896.2 415.4,888.5 419.2,886.8 423.0,885.3 425.5,888.5 429.3,887.8 433.1,891.1 438.2,891.1 443.2,892.4 452.1,890.3 457.2,891.1 462.3,894.4 465.6,898.7 471.1,899.2 477.5,897.4 483.8,895.4 487.6,891.1 490.2,888.0 496.5,888.0 504.1,887.3 513.7,886.8 514.8,880.9 519.3,882.2 523.1,881.7 526.9,878.9 530.7,878.4 535.8,875.9 540.1,874.6" fill="none" stroke="#c00000" stroke-width="2.3" stroke-linejoin="round" stroke-linecap="butt" />
<polyline points="97.6,884.7 100.6,884.2 102.7,890.3 106.5,892.4 111.6,889.3 114.1,892.4 117.9,891.6 120.4,887.3 124.2,874.6 126.0,868.3 129.3,867.0 130.6,859.4 132.6,864.0 134.4,858.9 138.2,856.9 142.0,849.2 144.5,836.6 147.1,818.8 149.6,818.8 152.1,826.4 154.7,821.4 156.4,826.4 159.7,813.7 162.3,813.7 165.6,803.6 167.3,780.8 169.1,756.7 170.6,778.2 173.2,812.5 174.9,822.6 176.7,834.0 179.3,816.3 181.8,823.9 183.3,816.8 186.4,819.3 189.4,822.6 191.4,832.8 194.5,829.0 197.8,827.7 200.3,817.6 203.6,805.6 206.6,804.1 209.2,801.1 212.2,796.8 214.2,808.7 216.8,802.3 219.3,806.6 221.9,806.1 223.9,812.5 226.9,808.7 230.7,806.6 235.8,800.6 238.3,804.9 242.1,806.1 244.7,807.4 248.9,801.1 252.2,799.0 253.9,804.9 256.5,804.9 259.0,816.3 262.8,826.4 265.4,839.1 267.9,856.9 269.2,865.7 271.7,864.0 274.2,870.8 278.0,867.5 280.6,869.5 284.4,865.7 286.9,867.5 290.7,863.2 294.5,869.0 297.8,871.6 302.1,869.5 305.9,865.7 308.5,866.5 313.5,861.9 317.3,855.6 319.9,849.2 322.4,855.6 326.2,854.3 328.2,856.9 330.8,844.2 333.8,837.8 335.8,844.2 337.6,849.2 341.4,842.9 346.5,836.6 349.5,835.3 352.8,842.1 356.6,840.4 360.4,848.0 365.5,844.2 368.1,854.3 371.9,858.1 374.4,863.2 378.2,866.5 382.0,863.2 385.8,862.7 388.3,870.8 390.0,872.1 391.3,896.2 393.8,895.4 396.3,891.1 398.9,898.7 401.4,902.5 403.2,917.7 404.7,931.7 407.2,925.3 411.6,922.3 413.3,913.9 416.6,911.4 419.2,909.6 421.7,911.4 424.2,917.7 428.0,911.4 431.8,917.2 435.6,914.7 439.4,916.4 442.0,918.2 445.8,913.9 452.1,912.1 454.7,917.7 458.5,921.5 461.8,921.5 464.8,930.4 468.6,928.6 472.4,922.3 476.2,922.8 481.3,919.0 485.1,913.9 489.4,907.6 492.7,912.1 496.5,909.6 500.3,910.1 505.4,906.3 509.2,906.3 514.2,901.2 516.8,906.3 521.9,905.5 526.9,899.5 530.7,898.7 534.5,896.2 538.3,889.8 540.1,893.6" fill="none" stroke="#05347f" stroke-width="2.3" stroke-linejoin="round" stroke-linecap="butt" />
</g>
<g id="chart4">
<text y="1097" class="title" style="font-size:13.0px;font-weight:900" x="88.7">图</text><text y="1097" class="title" style="font-size:13.5px" x="101.2">4</text><text y="1097" class="title" style="font-size:13.0px;font-weight:900" x="109.6">：</text><text y="1097" class="title" style="font-size:13.5px" x="124.7 131.7 138.7 145.7">2021</text><text y="1097" class="title" style="font-size:13.5px" x="160.7 167.7 174.7 181.7">2023</text><text y="1097" class="title" style="font-size:13.0px;font-weight:900" x="189.4">年</text><text y="1097" class="title" style="font-size:13.0px;font-weight:900" x="205.9 220.9 235.8 250.8 265.7 280.7">全国焊管库存</text><text y="1097" class="title" style="font-size:13.0px;font-weight:900" x="293.9">（</text><text y="1097" class="title" style="font-size:13.0px;font-weight:900" x="309.7 325.4">单位</text><text y="1097" class="title" style="font-size:13.0px;font-weight:900" x="339.5">：</text><text y="1097" class="title" style="font-size:13.0px;font-weight:900" x="353.9 368.2">万吨</text><text y="1097" class="title" style="font-size:13.0px;font-weight:900" x="383.1">）</text><text class="title" style="font-size:13.5px;font-weight:normal" transform="translate(151.5,1097) scale(2.17,1)" x="-0.49">-</text>
<line x1="238.5" y1="1124" x2="265.5" y2="1124" stroke="#bfbfbf" stroke-width="2.0" stroke-linecap="round"/>
<text x="270.6" y="1128.6" class="lab" style="font-size:15px" textLength="27.6" lengthAdjust="spacingAndGlyphs">2021</text>
<text x="299.6" y="1128.0" class="lab k" style="font-size:12.5px">年</text>
<line x1="318.7" y1="1124" x2="345.2" y2="1124" stroke="#05347f" stroke-width="2.2" stroke-linecap="round"/>
<text x="350.5" y="1128.6" class="lab" style="font-size:15px" textLength="27.6" lengthAdjust="spacingAndGlyphs">2022</text>
<text x="379.5" y="1128.0" class="lab k" style="font-size:12.5px">年</text>
<line x1="398.3" y1="1124" x2="424.8" y2="1124" stroke="#c00000" stroke-width="2.2" stroke-linecap="round"/>
<text x="430.40000000000003" y="1128.6" class="lab" style="font-size:15px" textLength="27.6" lengthAdjust="spacingAndGlyphs">2023</text>
<text x="459.4" y="1128.0" class="lab k" style="font-size:12.5px">年</text>
<line x1="83" y1="1357.5" x2="566" y2="1357.5" stroke="#d9d9d9" stroke-width="1"/>
<line x1="82.5" y1="1116" x2="82.5" y2="1358" stroke="#c3c3c3" stroke-width="1"/>
<line x1="77" y1="1116.5" x2="82" y2="1116.5" stroke="#c3c3c3" stroke-width="1"/>
<text x="51.1" y="1120.8" class="lab" style="font-size:14px" textLength="22.5" lengthAdjust="spacingAndGlyphs">100</text>
<line x1="77" y1="1156.5" x2="82" y2="1156.5" stroke="#c3c3c3" stroke-width="1"/>
<text x="58.6" y="1160.8" class="lab" style="font-size:14px" textLength="15.0" lengthAdjust="spacingAndGlyphs">95</text>
<line x1="77" y1="1196.5" x2="82" y2="1196.5" stroke="#c3c3c3" stroke-width="1"/>
<text x="58.6" y="1200.8" class="lab" style="font-size:14px" textLength="15.0" lengthAdjust="spacingAndGlyphs">90</text>
<line x1="77" y1="1237.5" x2="82" y2="1237.5" stroke="#c3c3c3" stroke-width="1"/>
<text x="58.6" y="1241.8" class="lab" style="font-size:14px" textLength="15.0" lengthAdjust="spacingAndGlyphs">85</text>
<line x1="77" y1="1277.5" x2="82" y2="1277.5" stroke="#c3c3c3" stroke-width="1"/>
<text x="58.6" y="1281.8" class="lab" style="font-size:14px" textLength="15.0" lengthAdjust="spacingAndGlyphs">80</text>
<line x1="77" y1="1317.5" x2="82" y2="1317.5" stroke="#c3c3c3" stroke-width="1"/>
<text x="58.6" y="1321.8" class="lab" style="font-size:14px" textLength="15.0" lengthAdjust="spacingAndGlyphs">75</text>
<line x1="77" y1="1357.5" x2="82" y2="1357.5" stroke="#c3c3c3" stroke-width="1"/>
<text x="58.6" y="1361.8" class="lab" style="font-size:14px" textLength="15.0" lengthAdjust="spacingAndGlyphs">70</text>
<line x1="82.5" y1="1358" x2="82.5" y2="1363" stroke="#d9d9d9" stroke-width="1"/>
<text transform="translate(84.1,1377.8) rotate(-45)" class="lab k" text-anchor="end" style="letter-spacing:1.5px"><tspan style="font-size:14px">1</tspan><tspan style="font-size:11.5px">月</tspan><tspan style="font-size:14px">3</tspan><tspan style="font-size:11.5px">日</tspan></text>
<line x1="124.5" y1="1358" x2="124.5" y2="1363" stroke="#d9d9d9" stroke-width="1"/>
<text transform="translate(126.1,1377.8) rotate(-45)" class="lab k" text-anchor="end" style="letter-spacing:1.5px"><tspan style="font-size:14px">2</tspan><tspan style="font-size:11.5px">月</tspan><tspan style="font-size:14px">3</tspan><tspan style="font-size:11.5px">日</tspan></text>
<line x1="163.5" y1="1358" x2="163.5" y2="1363" stroke="#d9d9d9" stroke-width="1"/>
<text transform="translate(165.1,1377.8) rotate(-45)" class="lab k" text-anchor="end" style="letter-spacing:1.5px"><tspan style="font-size:14px">3</tspan><tspan style="font-size:11.5px">月</tspan><tspan style="font-size:14px">3</tspan><tspan style="font-size:11.5px">日</tspan></text>
<line x1="205.5" y1="1358" x2="205.5" y2="1363" stroke="#d9d9d9" stroke-width="1"/>
<text transform="translate(207.1,1377.8) rotate(-45)" class="lab k" text-anchor="end" style="letter-spacing:1.5px"><tspan style="font-size:14px">4</tspan><tspan style="font-size:11.5px">月</tspan><tspan style="font-size:14px">3</tspan><tspan style="font-size:11.5px">日</tspan></text>
<line x1="246.5" y1="1358" x2="246.5" y2="1363" stroke="#d9d9d9" stroke-width="1"/>
<text transform="translate(248.1,1377.8) rotate(-45)" class="lab k" text-anchor="end" style="letter-spacing:1.5px"><tspan style="font-size:14px">5</tspan><tspan style="font-size:11.5px">月</tspan><tspan style="font-size:14px">3</tspan><tspan style="font-size:11.5px">日</tspan></text>
<line x1="288.5" y1="1358" x2="288.5" y2="1363" stroke="#d9d9d9" stroke-width="1"/>
<text transform="translate(290.1,1377.8) rotate(-45)" class="lab k" text-anchor="end" style="letter-spacing:1.5px"><tspan style="font-size:14px">6</tspan><tspan style="font-size:11.5px">月</tspan><tspan style="font-size:14px">3</tspan><tspan style="font-size:11.5px">日</tspan></text>
<line x1="328.5" y1="1358" x2="328.5" y2="1363" stroke="#d9d9d9" stroke-width="1"/>
<text transform="translate(330.1,1377.8) rotate(-45)" class="lab k" text-anchor="end" style="letter-spacing:1.5px"><tspan style="font-size:14px">7</tspan><tspan style="font-size:11.5px">月</tspan><tspan style="font-size:14px">3</tspan><tspan style="font-size:11.5px">日</tspan></text>
<line x1="370.5" y1="1358" x2="370.5" y2="1363" stroke="#d9d9d9" stroke-width="1"/>
<text transform="translate(372.1,1377.8) rotate(-45)" class="lab k" text-anchor="end" style="letter-spacing:1.5px"><tspan style="font-size:14px">8</tspan><tspan style="font-size:11.5px">月</tspan><tspan style="font-size:14px">3</tspan><tspan style="font-size:11.5px">日</tspan></text>
<line x1="412.5" y1="1358" x2="412.5" y2="1363" stroke="#d9d9d9" stroke-width="1"/>
<text transform="translate(414.1,1377.8) rotate(-45)" class="lab k" text-anchor="end" style="letter-spacing:1.5px"><tspan style="font-size:14px">9</tspan><tspan style="font-size:11.5px">月</tspan><tspan style="font-size:14px">3</tspan><tspan style="font-size:11.5px">日</tspan></text>
<line x1="452.5" y1="1358" x2="452.5" y2="1363" stroke="#d9d9d9" stroke-width="1"/>
<text transform="translate(454.1,1377.8) rotate(-45)" class="lab k" text-anchor="end" style="letter-spacing:1.5px"><tspan style="font-size:14px">10</tspan><tspan style="font-size:11.5px">月</tspan><tspan style="font-size:14px">3</tspan><tspan style="font-size:11.5px">日</tspan></text>
<line x1="494.5" y1="1358" x2="494.5" y2="1363" stroke="#d9d9d9" stroke-width="1"/>
<text transform="translate(496.1,1377.8) rotate(-45)" class="lab k" text-anchor="end" style="letter-spacing:1.5px"><tspan style="font-size:14px">11</tspan><tspan style="font-size:11.5px">月</tspan><tspan style="font-size:14px">3</tspan><tspan style="font-size:11.5px">日</tspan></text>
<line x1="535.5" y1="1358" x2="535.5" y2="1363" stroke="#d9d9d9" stroke-width="1"/>
<text transform="translate(537.1,1377.8) rotate(-45)" class="lab k" text-anchor="end" style="letter-spacing:1.5px"><tspan style="font-size:14px">12</tspan><tspan style="font-size:11.5px">月</tspan><tspan style="font-size:14px">3</tspan><tspan style="font-size:11.5px">日</tspan></text>
<polyline points="82.6,1231.3 91.5,1231.0 102.1,1233.8 111.8,1225.4 121.1,1192.5 130.8,1185.4 140.2,1178.5 149.3,1158.8 158.7,1161.3 168.1,1176.0 177.4,1180.6 186.8,1188.7 196.2,1181.1 205.8,1188.7 215.2,1185.6 224.6,1184.4 234.4,1179.8 243.8,1176.8 253.1,1184.4 262.5,1195.0 271.9,1218.3 281.3,1211.5 290.9,1205.2 300.3,1195.0 309.7,1193.2 319.1,1184.9 328.5,1177.3 337.8,1175.5 347.7,1179.3 356.9,1186.9 366.2,1181.8 375.9,1181.8 385.1,1192.5 394.8,1186.6 404.2,1182.8 413.5,1178.5 423.2,1178.5 432.6,1179.0 442.2,1166.6 451.6,1163.3 461.2,1168.4 470.6,1178.5 480.1,1193.2 489.5,1206.9 498.9,1223.4 508.3,1232.5 517.7,1236.3 527.3,1248.8 536.7,1254.9 546.1,1246.0 555.7,1250.5 565.6,1253.8" fill="none" stroke="#bfbfbf" stroke-width="2.0" stroke-linejoin="round" stroke-linecap="butt" />
<polyline points="83.4,1247.0 92.7,1214.0 102.1,1176.5 111.8,1166.6 121.1,1160.0 130.8,1150.6 140.2,1154.7 149.3,1162.8 158.7,1160.8 168.1,1175.5 177.4,1175.5 186.8,1180.1 196.2,1174.0 205.8,1171.7 215.2,1166.9 224.6,1184.4 234.4,1183.1 243.8,1170.4 253.1,1183.1 262.5,1195.0 271.9,1196.8 281.3,1182.3 290.9,1174.7 300.3,1188.2 309.7,1197.6 319.1,1201.4 328.5,1204.4 337.8,1229.2 347.7,1248.3 356.9,1235.1 366.2,1233.1 375.9,1233.1 385.1,1245.0 394.8,1250.0 404.2,1248.3 413.5,1248.3 423.2,1250.8 432.6,1248.8 442.2,1241.4 451.6,1231.3 461.2,1229.2 470.6,1232.3 480.1,1249.5 489.5,1260.4 498.9,1276.9 508.3,1269.8 517.7,1276.9 527.3,1281.7 536.7,1285.8 546.1,1287.8 555.7,1285.3 565.6,1285.3" fill="none" stroke="#05347f" stroke-width="2.2" stroke-linejoin="round" stroke-linecap="butt" />
<polyline points="83.4,1286.8 92.7,1289.6 102.1,1256.6 111.8,1231.0 121.1,1230.5 130.8,1230.5 140.2,1217.8 149.3,1211.5 158.7,1200.1 168.1,1191.7 177.4,1186.6 186.8,1184.4 196.7,1198.8" fill="none" stroke="#c00000" stroke-width="2.2" stroke-linejoin="round" stroke-linecap="butt" />
</g>
</svg>
</body>
</html>
